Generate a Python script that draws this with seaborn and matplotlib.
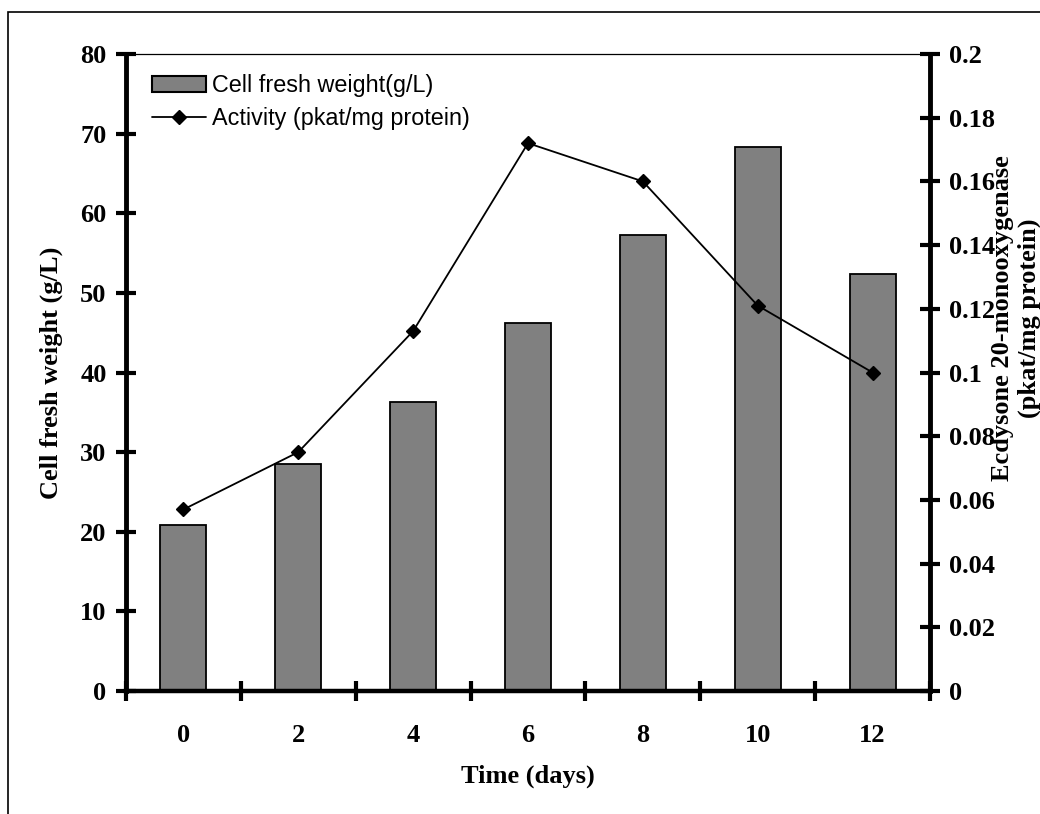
import matplotlib
matplotlib.use('Agg')
import matplotlib.pyplot as plt
import seaborn as sns
import pandas as pd
from matplotlib.patches import Rectangle, Patch
from matplotlib.lines import Line2D
from matplotlib.ticker import FixedLocator

# ---- data ----
days = ['0', '2', '4', '6', '8', '10', '12']
fresh_weight = [20.9, 28.5, 36.3, 46.2, 57.3, 68.3, 52.4]
activity = [0.057, 0.075, 0.113, 0.172, 0.160, 0.121, 0.100]
left_ticks = [0, 10, 20, 30, 40, 50, 60, 70, 80]
right_ticks = [0, 0.02, 0.04, 0.06, 0.08, 0.1, 0.12, 0.14, 0.16, 0.18, 0.2]
right_tick_labels = ['0', '0.02', '0.04', '0.06', '0.08', '0.1', '0.12', '0.14', '0.16', '0.18', '0.2']
legend_labels = ['Cell fresh weight(g/L)', 'Activity (pkat/mg protein)']

sns.set_style('white')
plt.rcParams['font.family'] = ['Liberation Serif', 'DejaVu Serif']
plt.rcParams['text.color'] = 'black'
plt.rcParams['axes.labelcolor'] = 'black'
plt.rcParams['xtick.color'] = 'black'
plt.rcParams['ytick.color'] = 'black'

W, H = 1040, 814
fig = plt.figure(figsize=(W / 100, H / 100), dpi=100)
ax = fig.add_axes([126 / W, 1 - 691 / H, (930 - 126) / W, (691 - 54) / H])

df = pd.DataFrame({'day': days, 'weight': fresh_weight, 'activity': activity})
sns.barplot(data=df, x='day', y='weight', ax=ax, color='#808080', saturation=1,
            width=0.4, edgecolor='black', linewidth=1.3, zorder=2)

ax2 = ax.twinx()
sns.pointplot(data=df, x='day', y='activity', ax=ax2, color='black', marker='D',
              markersize=7.5, linewidth=1.3, errorbar=None)

ax.set_ylim(0, 80)
ax2.set_ylim(0, 0.2)
ax.set_xlim(-0.5, len(days) - 0.5)

# spines
for s in ['top', 'left', 'bottom', 'right']:
    ax.spines[s].set_color('black')
ax.spines['top'].set_linewidth(0.9)
ax.spines['left'].set_linewidth(3.5)
ax.spines['bottom'].set_linewidth(3.2)
ax.spines['right'].set_visible(False)
for s in ['top', 'left', 'bottom']:
    ax2.spines[s].set_visible(False)
ax2.spines['right'].set_linewidth(3.5)
ax2.spines['right'].set_color('black')

# left y ticks
ax.set_yticks(left_ticks, labels=[str(t) for t in left_ticks], fontsize=19, fontweight='bold')
ax.tick_params(axis='y', direction='inout', length=14, width=3, pad=7, left=True, colors='black')

# x ticks
ax.set_xticks(range(len(days)), labels=days, fontsize=19, fontweight='bold')
ax.xaxis.set_minor_locator(FixedLocator([i - 0.5 for i in range(len(days) + 1)]))
ax.tick_params(axis='x', which='major', length=0, pad=24, colors='black')
ax.tick_params(axis='x', which='minor', direction='inout', length=14, width=3, bottom=True, color='black')

# right y ticks
ax2.set_yticks(right_ticks, labels=right_tick_labels, fontsize=19, fontweight='bold')
ax2.tick_params(axis='y', direction='inout', length=14, width=3, pad=7, right=True, colors='black')

# labels
ax.set_xlabel('Time (days)', fontsize=19, fontweight='bold', color='black')
ax.xaxis.set_label_coords(0.5, -0.115)
ax.set_ylabel('Cell fresh weight (g/L)', fontsize=19, fontweight='bold', color='black')
ax.yaxis.set_label_coords(-0.078, 0.5)
ax2.set_ylabel('')
fig.text(1016 / W, 1 - 318 / H, 'Ecdysone 20-monooxygenase\n(pkat/mg protein)',
         rotation=90, ha='center', va='center', multialignment='center',
         fontsize=19, fontweight='bold', linespacing=1.2, color='black')

# legend
handles = [Patch(facecolor='#808080', edgecolor='black', linewidth=1.5),
           Line2D([], [], color='black', marker='D', markersize=7.5, linewidth=1.3)]
leg = fig.legend(handles, legend_labels, loc='upper left',
                 bbox_to_anchor=(152 / W, 1 - 74 / H), bbox_transform=fig.transFigure,
                 frameon=False, borderpad=0, borderaxespad=0, handlelength=2.3,
                 handletextpad=0.28, labelspacing=0.45,
                 prop={'family': 'Liberation Sans', 'size': 16.8})
for t in leg.get_texts():
    t.set_color('black')

# outer border
fig.add_artist(Rectangle((8 / W, -0.1), 1.2, 1.1 - 12 / H, transform=fig.transFigure,
                         fill=False, edgecolor='black', linewidth=1.2, clip_on=False))

fig.savefig('out.png', dpi=100)
